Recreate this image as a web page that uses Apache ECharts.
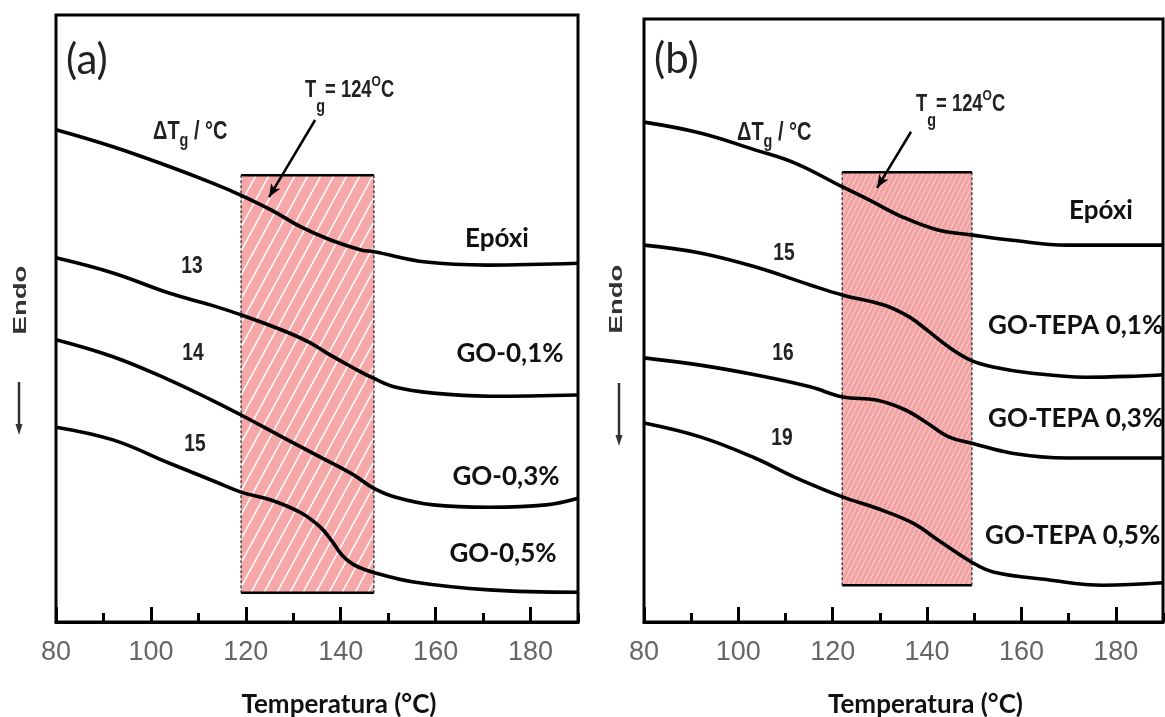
<!DOCTYPE html>
<html>
<head>
<meta charset="utf-8">
<script src="https://cdn.jsdelivr.net/npm/echarts@6/dist/echarts.min.js"></script>
<style>
  html, body { margin: 0; padding: 0; background: #fff; }
  #chart { width: 1165px; height: 717px; }
</style>
</head>
<body>
<div id="chart"></div>
<script>
// DSC traces: temperature (°C) vs heat flow (arbitrary units, endo down)
// Panel (a): epoxy and epoxy/GO
const epoxiA = [[80,81.1],[92,78.3],[104,75.0],[113,72.3],[119,70.3],[125.3,67.9],[131.6,65.1],[138,62.9],[144.3,61.3],[147,61.0],[158,59.3],[171,58.8],[190,59.1]];
const go01A  = [[80,60.0],[92,57.5],[103.8,54.2],[112.7,52.2],[119,50.6],[127.6,48.1],[133.3,46.1],[137.1,44.3],[142.8,41.8],[146.8,40.2],[151.4,38.7],[159.5,37.7],[171.3,37.2],[190,37.4]];
const go03A  = [[80,46.5],[92,43.7],[103.8,39.9],[112.7,36.6],[119,34.1],[127.6,30.5],[135.6,27.2],[142.8,24.2],[146.8,22.1],[151.4,20.6],[159.5,19.3],[171.3,18.9],[183.3,19.3],[190,20.4]];
const go05A  = [[80,32.1],[92,30.0],[103.8,26.2],[112.7,23.4],[119,21.4],[125.3,20.1],[131.6,18.0],[135.6,15.7],[138,13.5],[140.3,11.0],[142.8,9.4],[146.8,8.2],[155.4,6.6],[171.3,5.3],[190,4.9]];

// Panel (b): epoxy and epoxy/GO-TEPA
const epoxiB  = [[80,82.9],[91.9,81.1],[103.5,78.3],[112,76.1],[122.2,72.1],[127.7,70.0],[134.7,67.2],[142.3,65.0],[149.3,64.2],[158,63.3],[169.7,62.5],[190,62.5]];
const tepa01B = [[80,62.5],[91.9,61.2],[103.5,58.9],[115.2,55.9],[122.2,54.2],[130.7,52.6],[136.2,50.6],[140,48.4],[144.6,45.6],[149.3,43.4],[154,42.3],[161.8,41.3],[173.5,40.6],[185.1,40.8],[190,41.0]];
const tepa03B = [[80,43.8],[91.9,42.6],[103.5,41.0],[115.2,39.0],[122.2,37.3],[129.2,36.8],[135.3,35.2],[140,33.0],[144.6,30.7],[149.3,29.7],[158,28.0],[169.7,27.2],[190,27.2]];
const tepa05B = [[80,33.0],[91.9,30.7],[103.5,27.2],[112,24.0],[122.2,20.7],[129.2,18.9],[137,16.4],[142.3,13.6],[149.3,10.0],[154,8.3],[165.6,7.0],[177.3,6.1],[190,6.5]];

// Glass-transition band: [T start, T end, bottom, top]
const tgBandA = [119, 147, 4.8, 73.6];
const tgBandB = [122, 149.5, 6.1, 74.6];
// Tg arrow: [from, to] as [T, heat flow]
const tgArrowA = [[134.6, 82.7], [124.9, 70.0]];
const tgArrowB = [[136.6, 81.3], [129.4, 72.0]];

// Temperature axis: [min, max, major step, minor step]
const tempAxis = [80, 190, 20, 10];

// Text
const curveNamesA = ['Epóxi', 'GO-0,1%', 'GO-0,3%', 'GO-0,5%'];
const curveNamesB = ['Epóxi', 'GO-TEPA 0,1%', 'GO-TEPA 0,3%', 'GO-TEPA 0,5%'];
const deltaTgA = ['13', '14', '15'];
const deltaTgB = ['15', '16', '19'];
const panelTags = ['(a)', '(b)'];
const xTitle = 'Temperatura (°C)';
const yTitle = 'Endo';

const SANS = "'Liberation Sans', Arial, sans-serif";
const LABEL = "Lato, 'Open Sans', sans-serif";

function hatchPattern(w, h, bg, line, lw) {
  const c = document.createElement('canvas');
  c.width = w; c.height = h;
  const g = c.getContext('2d');
  g.fillStyle = bg;
  g.fillRect(0, 0, w, h);
  g.strokeStyle = line;
  g.lineWidth = lw;
  g.beginPath();
  for (const dx of [-w, 0, w]) { g.moveTo(dx, h); g.lineTo(dx + w, 0); }
  g.stroke();
  return { image: c, repeat: 'repeat' };
}
const hatchA = hatchPattern(13, 24, '#f6a8a8', 'rgba(255,255,255,0.9)', 1.6);
const hatchB = hatchPattern(5, 10, '#f3a2a2', 'rgba(255,255,255,0.5)', 1);

function bandRenderer(fill) {
  return function (params, api) {
    const tl = api.coord([api.value(0), api.value(3)]);
    const br = api.coord([api.value(1), api.value(2)]);
    const solid = { stroke: '#000', lineWidth: 2.5 };
    const dashed = { stroke: '#222', lineWidth: 1.2, lineDash: [3, 2] };
    return {
      type: 'group',
      children: [
        { type: 'rect', shape: { x: tl[0], y: tl[1], width: br[0] - tl[0], height: br[1] - tl[1] }, style: { fill: fill } },
        { type: 'line', shape: { x1: tl[0], y1: tl[1], x2: br[0], y2: tl[1] }, style: solid },
        { type: 'line', shape: { x1: tl[0], y1: br[1], x2: br[0], y2: br[1] }, style: solid },
        { type: 'line', shape: { x1: tl[0], y1: tl[1], x2: tl[0], y2: br[1] }, style: dashed },
        { type: 'line', shape: { x1: br[0], y1: tl[1], x2: br[0], y2: br[1] }, style: dashed }
      ]
    };
  };
}

function bandSeries(idx, band, fill, arrow) {
  return {
    type: 'custom', xAxisIndex: idx * 2, yAxisIndex: idx, z: 1, silent: true,
    renderItem: bandRenderer(fill),
    data: [band],
    markLine: {
      silent: true, symbol: ['none', 'arrow'], symbolSize: [8, 13],
      lineStyle: { color: '#000', width: 2.5, type: 'solid' },
      label: { show: false },
      data: [[{ coord: arrow[0] }, { coord: arrow[1] }]]
    }
  };
}

function trace(idx, data) {
  return {
    type: 'line', xAxisIndex: idx * 2, yAxisIndex: idx, z: 3,
    data: data, showSymbol: false, smooth: 0.4,
    lineStyle: { color: '#000', width: 3.6 }, silent: true
  };
}

function mainX(idx) {
  return {
    type: 'value', gridIndex: idx, position: 'bottom',
    min: tempAxis[0], max: tempAxis[1], interval: tempAxis[2],
    axisLine: { lineStyle: { color: '#000', width: 3 } },
    axisTick: { inside: true, length: 15, lineStyle: { color: '#000', width: 3 } },
    axisLabel: { showMaxLabel: false, margin: 17, color: '#666', fontSize: 27, fontFamily: SANS },
    splitLine: { show: false },
    name: xTitle, nameLocation: 'middle', nameGap: 70,
    nameTextStyle: { fontFamily: LABEL, fontWeight: 'bold', fontSize: 26, color: '#111', padding: [0, 0, 0, 44] }
  };
}
function minorX(idx) {
  return {
    type: 'value', gridIndex: idx, position: 'bottom',
    min: tempAxis[0], max: tempAxis[1], interval: tempAxis[3],
    axisLine: { show: false },
    axisTick: { inside: true, length: 9, lineStyle: { color: '#000', width: 3 } },
    axisLabel: { show: false }, splitLine: { show: false }
  };
}

function txt(x, y, str, font, align, fill, sx) {
  return {
    type: 'text', x: x, y: y, z: 100, silent: true, scaleX: sx || 1,
    style: { text: str, font: font, fill: fill || '#111', align: align || 'center', verticalAlign: 'middle',
             textAlign: align || 'center', textVerticalAlign: 'middle' }
  };
}
function deltaLabel(x, y) {
  return {
    type: 'text', x: x, y: y, z: 100, silent: true, scaleX: 0.8,
    style: {
      text: '{m|ΔT}{s|g}{m| / °C}', fill: '#222', align: 'left', verticalAlign: 'middle',
      textAlign: 'left', textVerticalAlign: 'middle',
      rich: {
        m: { fontFamily: SANS, fontWeight: 'bold', fontSize: 25, fill: '#222' },
        s: { fontFamily: SANS, fontWeight: 'bold', fontSize: 18, fill: '#222', padding: [18, 0, 0, 0] }
      }
    }
  };
}
function tgLabel(x, y) {
  return {
    type: 'text', x: x, y: y, z: 100, silent: true, scaleX: 0.8,
    style: {
      text: '{m|T}{s|g}{m|= 124}{o|O}{m|C}', fill: '#222', align: 'left', verticalAlign: 'middle',
      textAlign: 'left', textVerticalAlign: 'middle',
      rich: {
        m: { fontFamily: SANS, fontWeight: 'bold', fontSize: 23, fill: '#222' },
        s: { fontFamily: SANS, fontWeight: 'bold', fontSize: 18, fill: '#222', padding: [32, 0, 0, 0] },
        o: { fontFamily: SANS, fontWeight: 'bold', fontSize: 15, fill: '#222', padding: [0, 0, 18, 0] }
      }
    }
  };
}
function endoLabel(x, y, ax, ay0, ay1) {
  return [
    {
      type: 'text', x: x, y: y, rotation: Math.PI / 2, scaleX: 1.45, z: 100, silent: true,
      style: { text: yTitle, font: 'bold 19px ' + SANS, fill: '#333',
               align: 'center', verticalAlign: 'middle', textAlign: 'center', textVerticalAlign: 'middle' }
    },
    { type: 'line', z: 100, silent: true, shape: { x1: ax, y1: ay0, x2: ax, y2: ay1 - 8 }, style: { stroke: '#333', lineWidth: 2.5 } },
    { type: 'polygon', z: 100, silent: true, shape: { points: [[ax - 3.5, ay1 - 11], [ax + 3.5, ay1 - 11], [ax, ay1]] }, style: { fill: '#333' } }
  ];
}

const curveFont = 'bold 26px ' + LABEL;
const numFont = 'bold 24px ' + SANS;
const tagFont = '42px ' + LABEL;

const graphics = [].concat(
  [
    txt(66, 60, panelTags[0], tagFont, 'left', '#222'),
    txt(654, 59, panelTags[1], tagFont, 'left', '#222'),
    deltaLabel(153, 132),
    deltaLabel(737, 133),
    tgLabel(305, 91),
    tgLabel(916, 105),
    txt(497, 239, curveNamesA[0], curveFont),
    txt(510, 354, curveNamesA[1], curveFont),
    txt(506, 477, curveNamesA[2], curveFont),
    txt(503, 554, curveNamesA[3], curveFont),
    txt(1101, 211, curveNamesB[0], curveFont),
    txt(988, 326, curveNamesB[1], curveFont, 'left'),
    txt(988, 419, curveNamesB[2], curveFont, 'left'),
    txt(985, 536, curveNamesB[3], curveFont, 'left'),
    txt(192, 266, deltaTgA[0], numFont, 'center', '#222', 0.8),
    txt(193, 353, deltaTgA[1], numFont, 'center', '#222', 0.8),
    txt(195, 444, deltaTgA[2], numFont, 'center', '#222', 0.8),
    txt(784, 253, deltaTgB[0], numFont, 'center', '#222', 0.8),
    txt(783, 353, deltaTgB[1], numFont, 'center', '#222', 0.8),
    txt(782, 438, deltaTgB[2], numFont, 'center', '#222', 0.8)
  ],
  endoLabel(21, 300, 19, 382, 435),
  endoLabel(617, 299, 619, 383, 446)
);

const chart = echarts.init(document.getElementById('chart'), null, { renderer: 'canvas' });
chart.setOption({
  animation: false,
  backgroundColor: '#fff',
  grid: [
    { left: 56, top: 15, width: 522, height: 607, outerBoundsMode: 'none', containLabel: false,
      show: true, borderColor: '#000', borderWidth: 3, backgroundColor: 'transparent' },
    { left: 644, top: 19, width: 519, height: 603, outerBoundsMode: 'none', containLabel: false,
      show: true, borderColor: '#000', borderWidth: 3, backgroundColor: 'transparent' }
  ],
  xAxis: [mainX(0), minorX(0), mainX(1), minorX(1)],
  yAxis: [
    { type: 'value', gridIndex: 0, min: 0, max: 100, show: false },
    { type: 'value', gridIndex: 1, min: 0, max: 100, show: false }
  ],
  series: [
    bandSeries(0, tgBandA, hatchA, tgArrowA),
    bandSeries(1, tgBandB, hatchB, tgArrowB),
    trace(0, epoxiA), trace(0, go01A), trace(0, go03A), trace(0, go05A),
    trace(1, epoxiB), trace(1, tepa01B), trace(1, tepa03B), trace(1, tepa05B)
  ],
  graphic: graphics
});
</script>
</body>
</html>
